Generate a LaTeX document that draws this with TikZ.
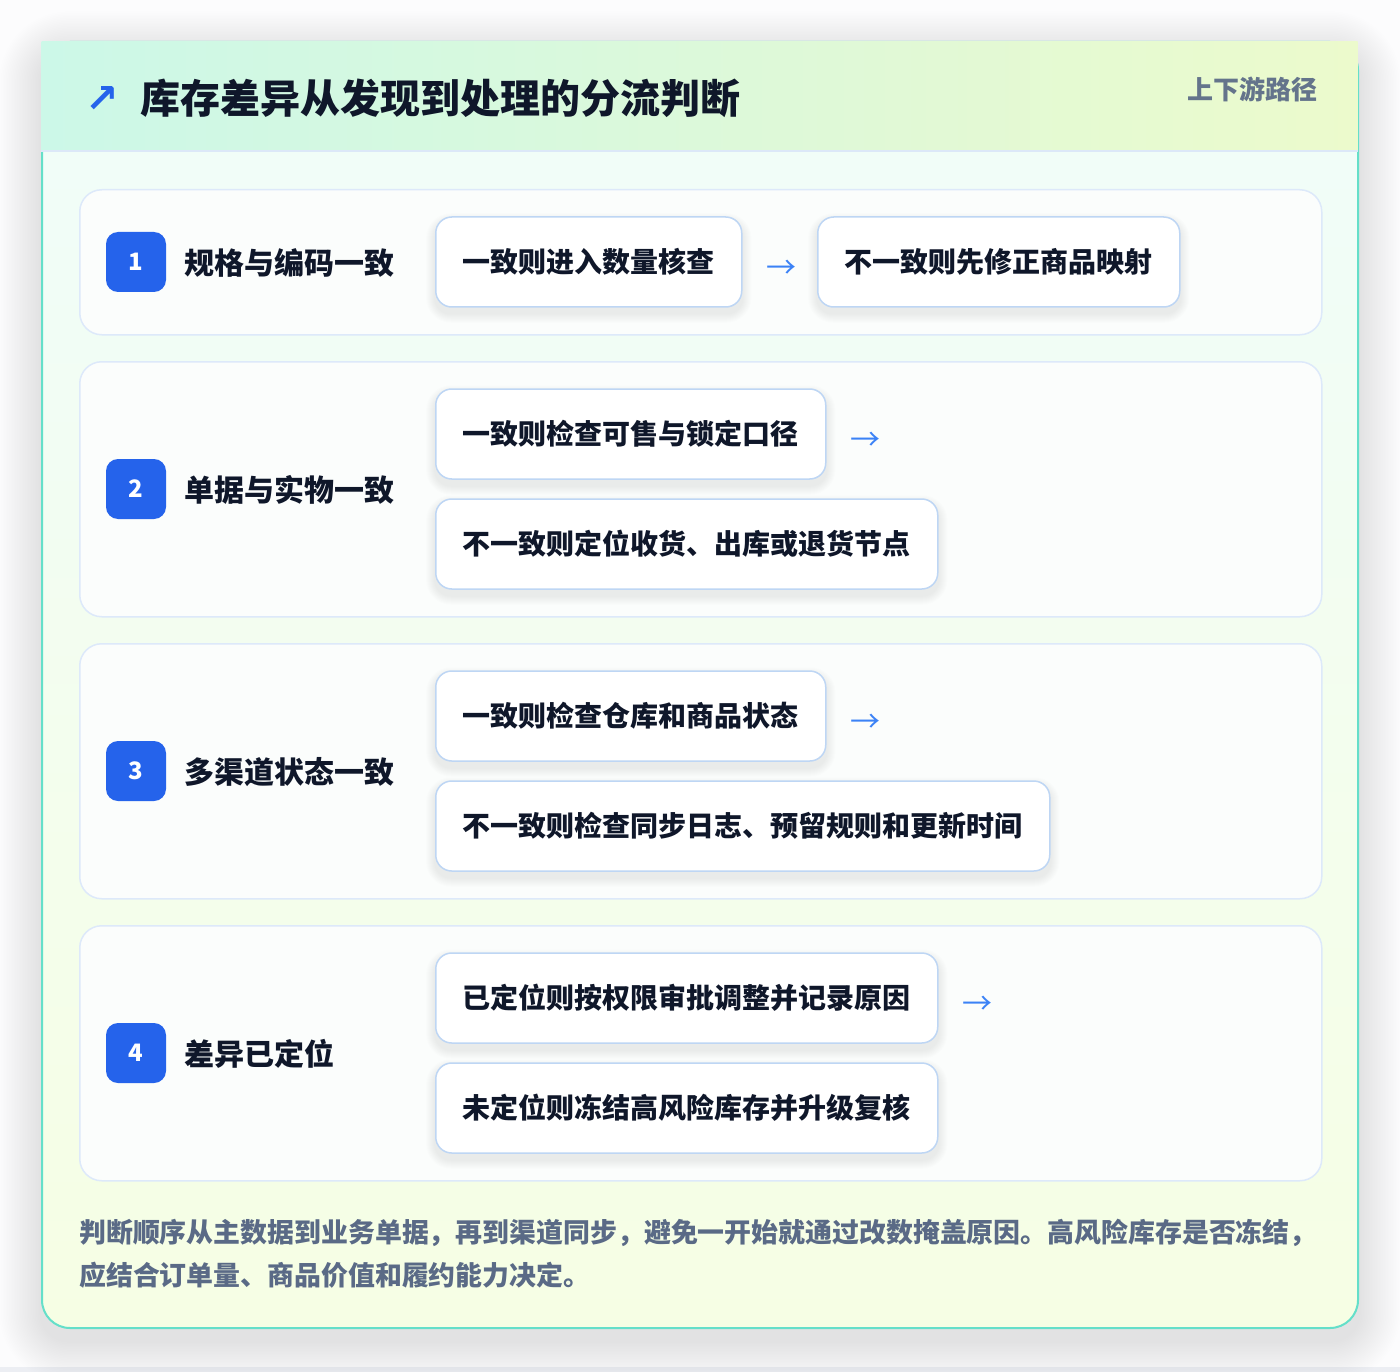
\documentclass[tikz,border=0pt]{standalone}
\usepackage{fontspec}
\setmainfont{Noto Sans CJK SC}
\newfontfamily\symfont{DejaVu Sans}
\definecolor{pagebg}{HTML}{FCFCFD}
\definecolor{stripgray}{HTML}{ECEEF3}
\definecolor{cardborder}{HTML}{64DFC9}
\definecolor{bodytop}{HTML}{F0FDFA}
\definecolor{bodybot}{HTML}{F6FEE4}
\definecolor{hdrL}{HTML}{CCF8E8}
\definecolor{hdrR}{HTML}{ECFACC}
\definecolor{hdrline}{HTML}{DCE8F8}
\definecolor{rowfill}{HTML}{FBFDFC}
\definecolor{rowborder}{HTML}{DDE9FA}
\definecolor{boxborder}{HTML}{BED6F4}
\definecolor{badgeblue}{HTML}{2563EB}
\definecolor{darktext}{HTML}{0F172A}
\definecolor{graytext}{HTML}{64748B}
\definecolor{foottext}{HTML}{5A6A86}
\definecolor{arrowblue}{HTML}{3B82F6}
\pgfdeclarelayer{pagelayer}
\pgfdeclarelayer{cardshadow}
\pgfdeclarelayer{cardlayer}
\pgfdeclarelayer{boxshadow}
\pgfsetlayers{pagelayer,cardshadow,cardlayer,boxshadow,main}
\newcommand\myboxshadow[1]{%
  \begin{pgfonlayer}{boxshadow}
  \foreach \i in {1,...,9}{%
    \fill[black,opacity=0.007,rounded corners=16+\i]
      ([shift={(-\i,-\i+6)}]#1.north west) rectangle ([shift={(\i,\i+6)}]#1.south east);}
  \end{pgfonlayer}}
\begin{document}
\begin{tikzpicture}[x=1pt,y=-1pt,
  card/.style={draw=cardborder, line width=2, rounded corners=28, top color=bodytop, bottom color=bodybot,
    minimum width=1316, minimum height=1286, inner sep=0},
  header/.style={left color=hdrL, right color=hdrR, minimum width=1316, minimum height=109, inner sep=0},
  rowbox/.style={draw=rowborder, line width=1.5, fill=rowfill, rounded corners=22, inner sep=0, minimum width=1242, anchor=north west},
  badge/.style={fill=badgeblue, rounded corners=12, minimum width=60, minimum height=60, inner sep=0,
    text=white, font=\bfseries\fontsize{24}{26}\selectfont},
  rowlabel/.style={anchor=west, inner sep=0, text=darktext, font=\bfseries\fontsize{30}{34}\selectfont},
  stepbox/.style={draw=boxborder, line width=1.5, fill=white, rounded corners=16, minimum height=90,
    inner xsep=27, inner ysep=0, anchor=west, text=darktext, font=\bfseries\fontsize{28}{32}\selectfont},
  arrowtxt/.style={inner sep=0, text=arrowblue, font=\fontsize{30}{32}\selectfont, yshift=-7pt}
]
\useasboundingbox (0,0) rectangle (1400,1372);
\begin{pgfonlayer}{pagelayer}
\fill[pagebg] (0,0) rectangle (1400,1372);
\fill[stripgray] (0,1367) rectangle (1400,1372);
\end{pgfonlayer}

\begin{pgfonlayer}{cardlayer}
\node[card] (card) at (700,685) {};
\node[header] (hdr) at (699.5,96.5) {};
\draw[hdrline, line width=1.5] (hdr.south west) -- (hdr.south east);
% rows
\node[rowbox, minimum height=145] (r1) at (79,189) {};
\node[rowbox, minimum height=255] (r2) at (79,361) {};
\node[rowbox, minimum height=255] (r3) at (79,643) {};
\node[rowbox, minimum height=255] (r4) at (79,925) {};
\end{pgfonlayer}
\begin{pgfonlayer}{cardshadow}
\foreach \i in {1,...,26}{%
  \fill[black,opacity=0.0045,rounded corners=28+1.6*\i]
    ([shift={(-1.6*\i,-1.6*\i+12)}]card.north west) rectangle ([shift={(1.6*\i,1.6*\i+12)}]card.south east);}
\end{pgfonlayer}

\node[inner sep=0, text=badgeblue, font=\symfont\bfseries\fontsize{40}{42}\selectfont] (icon) at (102,100) {↗};
\node[anchor=west, inner sep=0, text=darktext, font=\bfseries\fontsize{40}{44}\selectfont] (title) at (140,98) {库存差异从发现到处理的分流判断};
\node[anchor=east, inner sep=0, text=graytext, font=\bfseries\fontsize{26}{30}\selectfont] (tag) at (1318,89) {上下游路径};

\node[badge] (b1) at (136,262) {1};
\node[badge] (b2) at (136,489) {2};
\node[badge] (b3) at (136,771) {3};
\node[badge] (b4) at (136,1053) {4};

\node[rowlabel] (l1) at (184,263) {规格与编码一致};
\node[rowlabel] (l2) at (184,490) {单据与实物一致};
\node[rowlabel] (l3) at (184,772) {多渠道状态一致};
\node[rowlabel] (l4) at (184,1054) {差异已定位};

% row 1
\node[stepbox] (s1a) at (435,262) {一致则进入数量核查};
\node[arrowtxt] (a1) at ([xshift=39]s1a.east) {→};
\node[stepbox] (s1b) at (817,262) {不一致则先修正商品映射};
% row 2
\node[stepbox] (s2a) at (435,434) {一致则检查可售与锁定口径};
\node[arrowtxt] (a2) at ([xshift=39]s2a.east) {→};
\node[stepbox] (s2b) at (435,544) {不一致则定位收货、出库或退货节点};
% row 3
\node[stepbox] (s3a) at (435,716) {一致则检查仓库和商品状态};
\node[arrowtxt] (a3) at ([xshift=39]s3a.east) {→};
\node[stepbox] (s3b) at (435,826) {不一致则检查同步日志、预留规则和更新时间};
% row 4
\node[stepbox] (s4a) at (435,998) {已定位则按权限审批调整并记录原因};
\node[arrowtxt] (a4) at ([xshift=39]s4a.east) {→};
\node[stepbox] (s4b) at (435,1108) {未定位则冻结高风险库存并升级复核};

\myboxshadow{s1a}\myboxshadow{s1b}
\myboxshadow{s2a}\myboxshadow{s2b}
\myboxshadow{s3a}\myboxshadow{s3b}
\myboxshadow{s4a}\myboxshadow{s4b}

% footer
\node[anchor=west, inner sep=0, text=foottext, font=\bfseries\fontsize{26.9}{42}\selectfont] (f1) at (79,1233) {判断顺序从主数据到业务单据，再到渠道同步，避免一开始就通过改数掩盖原因。高风险库存是否冻结，};
\node[anchor=west, inner sep=0, text=foottext, font=\bfseries\fontsize{26.9}{42}\selectfont] (f2) at (79,1275) {应结合订单量、商品价值和履约能力决定。};
\end{tikzpicture}
\end{document}
